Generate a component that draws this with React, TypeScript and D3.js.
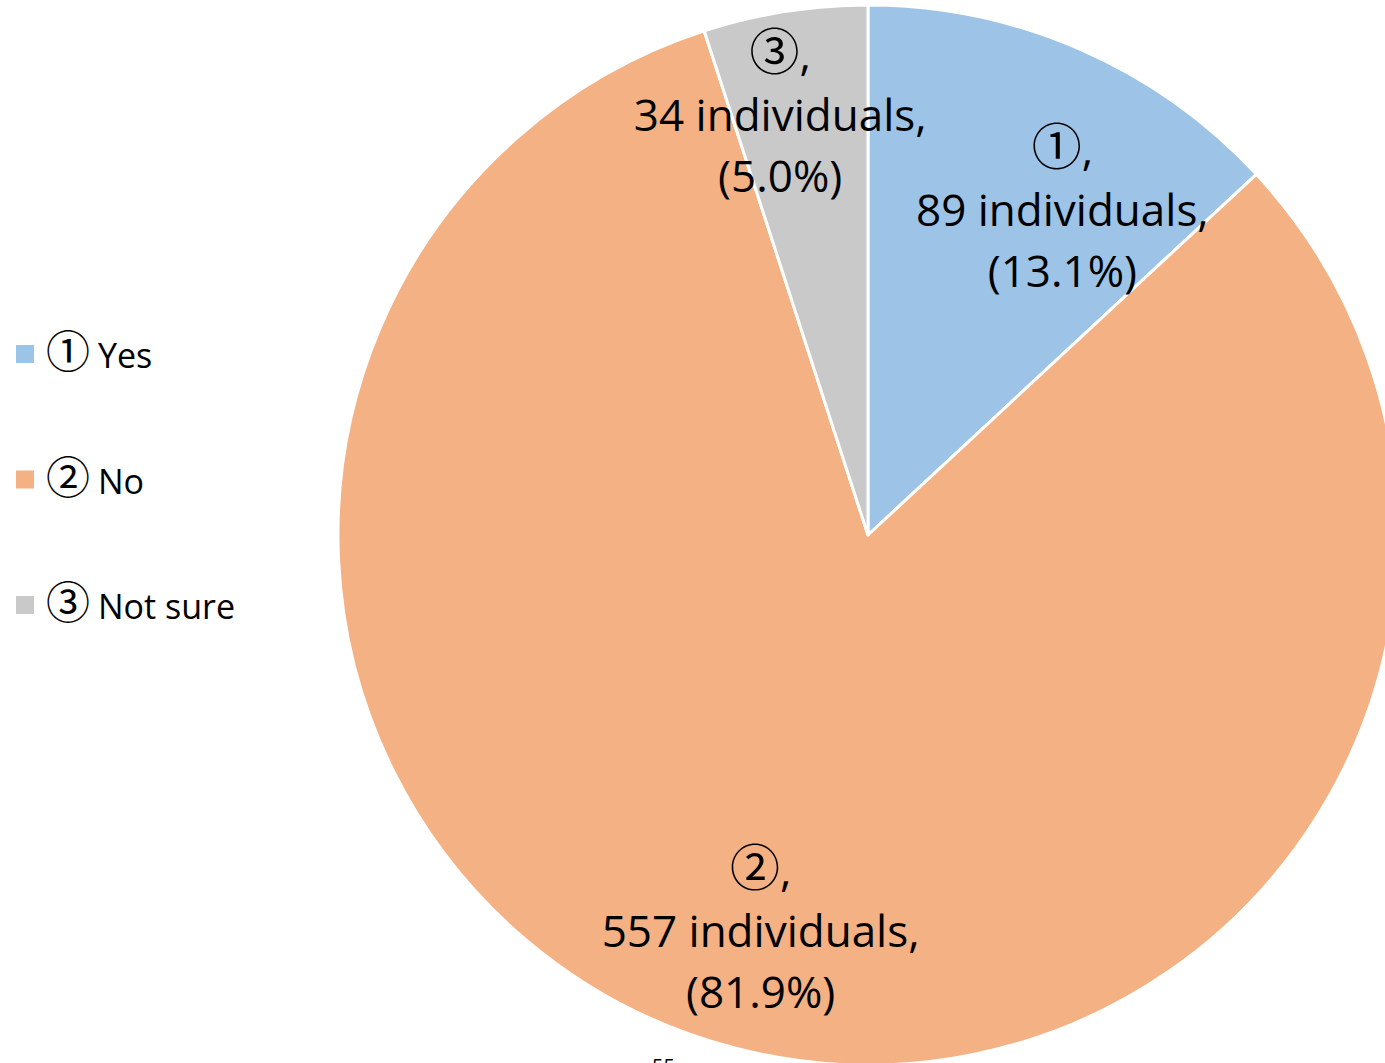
import React from "react";
import * as d3 from "d3";

const circled = ["①", "②", "③"];
const categories = ["Yes", "No", "Not sure"];
const counts = [89, 557, 34];
const percents = ["13.1%", "81.9%", "5.0%"];
const colors = ["#9DC3E6", "#F4B183", "#C9C9C9"];

const W = 1385;
const H = 1063;
const cx = 868;
const cy = 535;
const R = 530;
const FONT = "'Open Sans', sans-serif";
const CJK = "'Noto Sans CJK JP', 'DejaVu Sans', sans-serif";
// per-slice label radial factor and angle tweak (deg)
const labelRadius = [0.715, 0.775, 0.81];
const labelAngleAdj = [7.3, 0.6, -2.8];

export default function App() {
  const pie = d3.pie<number>().sort(null).value((d) => d);
  const arcs = pie(counts);
  const arc = d3.arc<d3.PieArcDatum<number>>().innerRadius(0).outerRadius(R);

  return (
    <svg width={W} height={H} style={{ position: "absolute", left: 0, top: 0, background: "#fff" }}>
      <g transform={`translate(${cx},${cy})`}>
        {arcs.map((a, i) => (
          <path key={i} d={arc(a) || ""} fill={colors[i]} stroke="#fff" strokeWidth={3} strokeLinejoin="round" />
        ))}
        {arcs.map((a, i) => {
          const mid = (a.startAngle + a.endAngle) / 2 + (labelAngleAdj[i] * Math.PI) / 180;
          const rr = R * labelRadius[i];
          const x = Math.sin(mid) * rr;
          const y = -Math.cos(mid) * rr;
          return (
            <g key={i} fontFamily={FONT} fontSize={44} fill="#000">
              <text x={x} y={y - 61 + 16} textAnchor="middle">
                <tspan fontFamily={CJK} fontSize={50}>{circled[i]}</tspan>
                <tspan>,</tspan>
              </text>
              <text x={x} y={y + 16} textAnchor="middle">{`${counts[i]} individuals,`}</text>
              <text x={x} y={y + 61 + 16} textAnchor="middle">{`(${percents[i]})`}</text>
            </g>
          );
        })}
      </g>
      <g>
        {categories.map((c, i) => (
          <g key={i} transform={`translate(16,${345 + i * 125.5})`}>
            <rect x={0} y={0} width={18} height={18} fill={colors[i]} />
            <text x={30} y={23} fontFamily={FONT} fontSize={34} fill="#000">
              <tspan fontFamily={CJK} fontSize={44}>{circled[i]}</tspan>
              <tspan dx={8}>{c}</tspan>
            </text>
          </g>
        ))}
      </g>
      <text x={652} y={1073} fontFamily={FONT} fontSize={20} fill="#000">55</text>
    </svg>
  );
}
